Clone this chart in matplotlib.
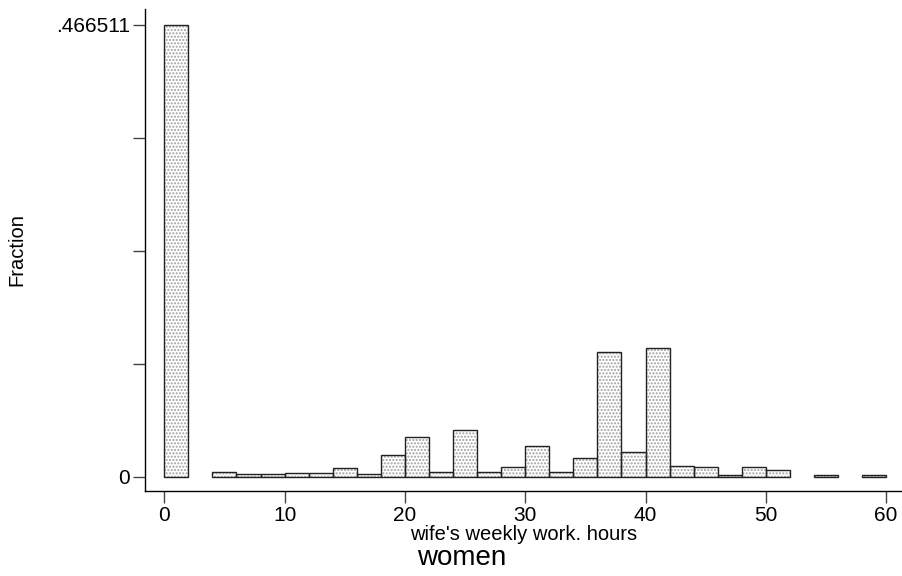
import matplotlib.pyplot as plt
import numpy as np

plt.rcParams['font.family'] = ['Liberation Sans', 'DejaVu Sans']

# histogram of wife's weekly hours, bins of width 2 from 0 to 60
bin_left = np.arange(0, 60, 2)
fraction = [0.466511, 0, 0.0045, 0.0028, 0.0028, 0.0038, 0.0038, 0.0087,
            0.003, 0.0227, 0.0407, 0.0052, 0.0482, 0.0052, 0.0096, 0.032,
            0.0052, 0.0189, 0.1284, 0.0251, 0.1332, 0.0107, 0.0096, 0.0017,
            0.01, 0.0072, 0, 0.0017, 0, 0.0017]
ymax = 0.466511

fig = plt.figure(figsize=(9.03, 5.76), dpi=100)
ax = fig.add_axes([145/903, 1 - 491/576, 1 - 145/903, (491 - 9)/576])

x = np.array(bin_left, dtype=float)
y = np.array(fraction)
keep = y > 0
# dotted fill, then the outlines on top
ax.bar(x[keep], y[keep], width=2, align='edge', color='white',
       edgecolor='#a0a0a0', hatch='.....', linewidth=0)
ax.bar(x[keep], y[keep], width=2, align='edge', fill=False,
       edgecolor='#222222', linewidth=1.0)

ax.set_xlim(-1.6, 61.4)
ax.set_ylim(-0.01477, 0.483)

for s in ['top', 'right']:
    ax.spines[s].set_visible(False)
for s in ['left', 'bottom']:
    ax.spines[s].set_linewidth(1.0)

ax.set_xticks([0, 10, 20, 30, 40, 50, 60])
ax.set_yticks(np.linspace(0, ymax, 5))
ax.set_yticklabels(['0', '', '', '', '.466511'])
ax.tick_params(axis='both', length=8.6, width=1.0, color='#444444',
               labelsize=15, pad=2)

fig.text(524/903, 1 - 535/576, "wife's weekly work. hours", fontsize=14.5,
         ha='center', va='center')
fig.text(17/903, 1 - 250/576, 'Fraction', rotation=90, fontsize=14.5,
         ha='center', va='center')
fig.text(462/903, 1 - 558/576, 'women', fontsize=20, ha='center',
         va='center')

fig.savefig('out.png', dpi=100)
